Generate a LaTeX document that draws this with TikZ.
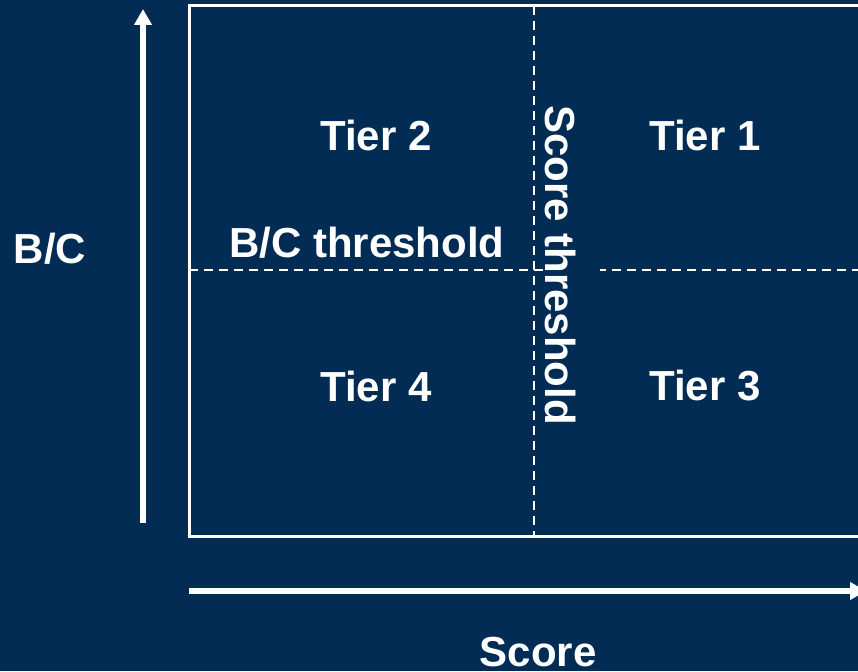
\documentclass[tikz,border=0pt]{standalone}
\usepackage{fontspec}
\setmainfont{Liberation Sans}
\usetikzlibrary{arrows.meta}
\definecolor{navy}{RGB}{2,44,83}
\begin{document}
\begin{tikzpicture}[x=1pt,y=-1pt,
  lbl/.style={text=white,font=\fontsize{42}{48}\selectfont\bfseries,inner sep=0pt},
  dashline/.style={draw=white,line width=2.5pt,dash pattern=on 9pt off 6pt},
  axis/.style={draw=white,line width=5.5pt,-{Triangle[width=17pt,length=16pt]}}]
\useasboundingbox (0,0) rectangle (858,671);
\fill[navy] (0,0) rectangle (858,671);
\clip (0,0) rectangle (858,671);
% frame
\draw[white,line width=3pt] (870,6) -- (189,6) -- (189,536) -- (870,536);
% dashed thresholds
\coordinate (vt) at (534,6);
\coordinate (vb) at (534,536);
\coordinate (hl) at (189,270);
\coordinate (hm) at (545,270);
\coordinate (hn) at (600,270);
\coordinate (hr) at (870,270);
\draw[dashline] (vt) -- (vb);
\draw[dashline] (hl) -- (hm);
\draw[dashline,dash phase=3pt] (hn) -- (hr);
% axes
\coordinate (ys) at (143,523);
\coordinate (ye) at (143,9);
\coordinate (xs) at (189,591);
\coordinate (xe) at (866,591);
\draw[axis] (ys) -- (ye);
\draw[axis] (xs) -- (xe);
% labels
\node[lbl] (t2) at (376,135) {Tier 2};
\node[lbl] (t1) at (705,135) {Tier 1};
\node[lbl] (t4) at (376,386) {Tier 4};
\node[lbl] (t3) at (705,386) {Tier 3};
\node[lbl] (bct) at (367,243) {B/C threshold};
\node[lbl] (bc) at (50,249) {B/C};
\node[lbl] (sc) at (538,652) {Score};
\node[lbl,rotate=-90] (sct) at (561,265) {Score threshold};
\end{tikzpicture}
\end{document}
